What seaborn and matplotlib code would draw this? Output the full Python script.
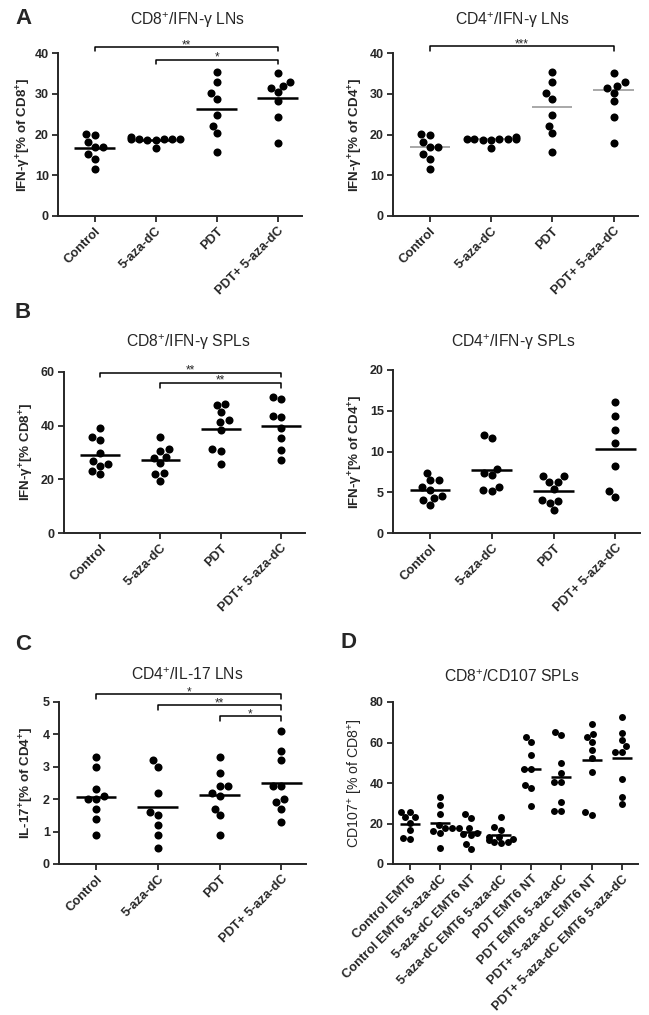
import numpy as np
import pandas as pd
import matplotlib
matplotlib.use("Agg")
import matplotlib.pyplot as plt
import seaborn as sns

sns.set_style("ticks")
plt.rcParams['font.family'] = ['Liberation Sans', 'DejaVu Sans']
plt.rcParams['mathtext.fontset'] = 'custom'
plt.rcParams['mathtext.rm'] = 'Liberation Sans'
plt.rcParams['mathtext.bf'] = 'Liberation Sans:bold'

# groups
groups4 = ["Control", "5-aza-dC", "PDT", "PDT+ 5-aza-dC"]
groups8 = ["Control EMT6", "Control EMT6 5-aza-dC", "5-aza-dC EMT6 NT",
           "5-aza-dC EMT6 5-aza-dC", "PDT EMT6 NT", "PDT EMT6 5-aza-dC",
           "PDT+ 5-aza-dC EMT6 NT", "PDT+ 5-aza-dC EMT6 5-aza-dC"]

# A - IFN-g in lymph nodes (one list per group)
cd8_ln = [[20.2, 18.2, 19.8, 16.9, 16.9, 15.2, 14.0, 11.6],
          [19.0, 18.9, 18.8, 19.3, 18.7, 18.6, 18.9, 19.0, 16.6],
          [35.3, 32.8, 30.2, 28.8, 24.7, 22.2, 20.4, 15.6],
          [35.2, 32.0, 31.5, 32.9, 30.4, 28.2, 24.2, 18.0]]
cd4_ln = [[20.2, 18.2, 19.8, 16.9, 16.9, 15.2, 14.0, 11.6],
          [19.0, 18.9, 18.8, 19.3, 18.7, 18.6, 18.9, 19.0, 16.6],
          [35.3, 32.8, 30.2, 28.8, 24.7, 22.2, 20.4, 15.6],
          [35.2, 32.0, 31.5, 32.9, 30.2, 28.2, 24.2, 18.0]]

# B - IFN-g in spleen
cd8_spl = [[39.1, 34.7, 35.9, 29.7, 26.8, 25.0, 25.6, 21.9, 23.1],
           [35.8, 30.7, 31.2, 28.1, 28.3, 26.2, 22.2, 21.9, 19.5],
           [48.1, 47.8, 45.1, 42.0, 41.4, 38.4, 31.2, 30.7, 25.6],
           [50.8, 49.9, 43.1, 43.5, 39.3, 35.4, 30.9, 27.2]]
cd4_spl = [[7.4, 6.5, 6.5, 5.7, 5.3, 4.3, 4.5, 4.0, 3.4],
           [11.6, 12.0, 7.4, 7.1, 7.9, 5.25, 5.1, 5.6],
           [7.0, 6.3, 6.3, 7.0, 5.45, 3.9, 3.7, 4.0, 2.8],
           [16.1, 14.3, 12.6, 11.1, 8.2, 4.4, 5.1]]

# C - IL-17 in lymph nodes
il17_ln = [[3.3, 3.0, 2.3, 2.1, 2.0, 2.0, 1.7, 1.4, 0.9],
           [3.2, 3.0, 2.2, 1.6, 1.5, 1.2, 0.9, 0.5],
           [3.3, 2.8, 2.4, 2.4, 2.1, 2.2, 1.7, 1.5, 0.9],
           [4.1, 3.5, 3.2, 2.4, 2.4, 1.9, 2.0, 1.7, 1.3]]

# D - CD107 in spleen
cd107_spl = [[25.7, 25.7, 23.0, 23.0, 20.4, 16.8, 12.5, 12.7],
             [32.9, 29.1, 24.7, 19.5, 18.0, 18.0, 16.5, 15.5, 7.8],
             [24.7, 22.6, 17.6, 17.6, 15.5, 14.8, 14.3, 9.9, 7.2],
             [23.0, 18.4, 16.8, 13.5, 13.5, 12.2, 11.0, 10.2, 11.0, 12.0],
             [60.1, 62.6, 53.8, 46.7, 46.7, 39.0, 37.4, 28.6],
             [65.0, 63.7, 50.0, 44.8, 40.7, 40.7, 30.8, 26.2, 26.2],
             [69.1, 64.2, 62.9, 60.4, 56.3, 52.2, 45.3, 24.2, 25.5],
             [72.4, 64.9, 61.2, 58.3, 55.5, 55.5, 41.8, 33.0, 29.5]]

W, H = 649, 1015
fig = plt.figure(figsize=(W / 100, H / 100), dpi=100)


def add_ax(x0, x1, ytop, ybot):
    return fig.add_axes([x0 / W, 1 - ybot / H, (x1 - x0) / W, (ybot - ytop) / H])


def to_frame(groups, values):
    rows = [(g, v) for g, vals in zip(groups, values) for v in vals]
    return pd.DataFrame(rows, columns=["group", "value"])


def draw(ax, groups, values, ymax, ystep, ylabel, stat="mean", line_color="black",
         line_w=1.8, size=5.8, ylabel_bold=True, xlim=(-0.6, 3.4), label_dx=-28):
    df = to_frame(groups, values)
    ax.set_ylim(0, ymax)
    sns.swarmplot(data=df, x="group", y="value", order=groups, color="black",
                  size=size, ax=ax, zorder=3)
    centre = df.groupby("group", sort=False)["value"].agg(stat).reindex(groups)
    pos = np.arange(len(groups))
    ax.hlines(centre.values, pos - 0.33, pos + 0.33, color=line_color, lw=line_w, zorder=2)
    ax.set_ylim(0, ymax)
    yt = np.arange(0, ymax + ystep * 0.01, ystep)
    ax.set_yticks(yt)
    ax.set_yticklabels([f"{t:g}" for t in yt], fontweight="bold", fontsize=9.0)
    ax.set_xlim(*xlim)
    ax.set_xticks(pos)
    ax.set_xticklabels(groups, rotation=45, ha="right", rotation_mode="anchor",
                       fontweight="bold", fontsize=9.3)
    ax.set_xlabel("")
    ax.set_ylabel(ylabel, fontsize=9.6 if ylabel_bold else 10.2,
                  fontweight="bold" if ylabel_bold else "normal")
    width_px = ax.get_position().width * W
    ax.yaxis.set_label_coords(label_dx / width_px, 0.5)
    ax.tick_params(axis="both", direction="out", length=4.5, width=1.3, pad=2)
    for s in ["left", "bottom"]:
        ax.spines[s].set_linewidth(1.4)
    sns.despine(ax=ax)


def bracket(ax, i, j, y, drop, label):
    ax.plot([i, i, j, j], [y - drop, y, y, y - drop], color="black", lw=1.1,
            clip_on=False, zorder=4)
    ax.annotate(label, xy=((i + j) / 2, y), xytext=(0, -3), textcoords="offset points",
                ha="center", va="bottom", fontsize=8.5, annotation_clip=False)


sup = r"$^{\mathregular{+}}$"

# A
ax = add_ax(58, 302, 53, 216)
draw(ax, groups4, cd8_ln, 40, 10, "IFN-γ" + sup + "[% of CD8" + sup + "]", label_dx=-25)
bracket(ax, 0, 3, 41.5, 1.0, "**")
bracket(ax, 1, 3, 38.4, 1.0, "*")

ax = add_ax(393, 638, 53, 216)
draw(ax, groups4, cd4_ln, 40, 10, "IFN-γ" + sup + "[% of CD4" + sup + "]",
     stat="median", line_color="#9a9a9a", line_w=1.2)
bracket(ax, 0, 3, 41.6, 1.0, "***")

# B
ax = add_ax(64, 305, 372, 533)
draw(ax, groups4, cd8_spl, 60, 20, "IFN-γ" + sup + "[% CD8" + sup + "]")
bracket(ax, 0, 3, 59.8, 1.8, "**")
bracket(ax, 1, 3, 56.0, 1.8, "**")

ax = add_ax(393, 640, 370, 533)
draw(ax, groups4, cd4_spl, 20, 5, "IFN-γ" + sup + "[% of CD4" + sup + "]")

# C
ax = add_ax(59, 306, 702, 864)
draw(ax, groups4, il17_ln, 5, 1, "IL-17" + sup + "[% of CD4" + sup + "]", label_dx=-23)
bracket(ax, 0, 3, 5.24, 0.15, "*")
bracket(ax, 1, 3, 4.90, 0.15, "**")
bracket(ax, 2, 3, 4.56, 0.15, "*")

# D
ax = add_ax(393, 638, 702, 864)
draw(ax, groups8, cd107_spl, 80, 20, "CD107" + sup + " [% of CD8" + sup + "]",
     size=5.0, ylabel_bold=False, xlim=(-0.56, 7.53))

# titles and panel letters
titles = [(188, 20, "CD8" + sup + "/IFN-γ LNs"), (513, 20, "CD4" + sup + "/IFN-γ LNs"),
          (188, 342, "CD8" + sup + "/IFN-γ SPLs"), (513, 342, "CD4" + sup + "/IFN-γ SPLs"),
          (187, 675, "CD4" + sup + "/IL-17 LNs"), (512, 677, "CD8" + sup + "/CD107 SPLs")]
for x, y, t in titles:
    fig.text(x / W, 1 - y / H, t, ha="center", va="center", fontsize=11.3)

for x, y, t in [(15, 18, "A"), (15, 312, "B"), (15, 645, "C"), (340, 643, "D")]:
    fig.text(x / W, 1 - y / H, t, ha="left", va="center", fontsize=16, fontweight="bold")

fig.savefig("out.png", dpi=100)
